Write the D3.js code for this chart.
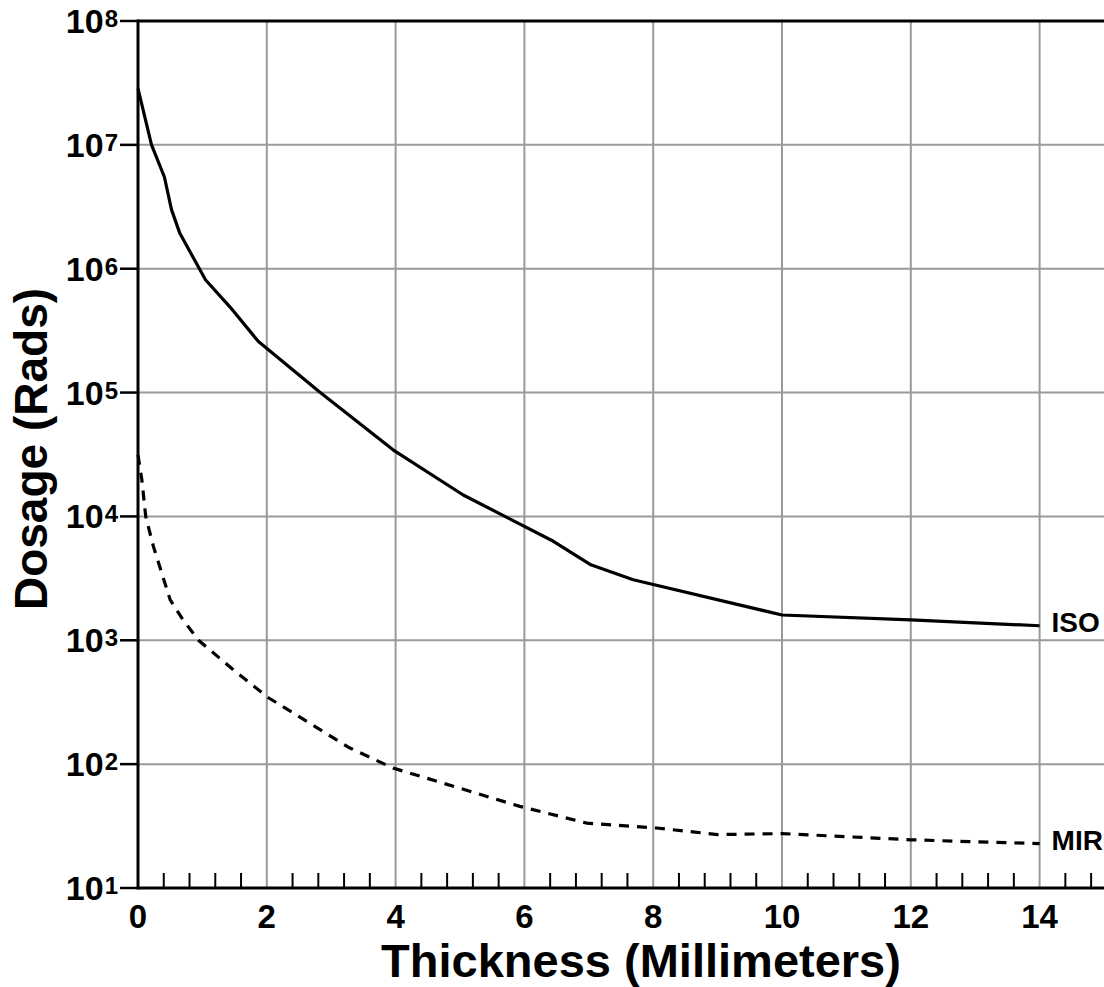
<!DOCTYPE html>
<html>
<head>
<meta charset="utf-8">
<script src="https://cdn.jsdelivr.net/npm/d3@7"></script>
<style>
  html, body { margin: 0; padding: 0; background: #fff; }
  svg { display: block; }
  text { font-family: "Liberation Sans", Arial, Helvetica, sans-serif; font-weight: bold; fill: #000; }
</style>
</head>
<body>
<svg id="chart" width="1104" height="987"></svg>
<script>
// ---- Data ----
const isoThickness = [0, 0.21, 0.41, 0.52, 0.65, 1.05, 1.43, 1.87, 2.83, 3.96, 5.05, 6.45, 7.02, 7.69, 10.0, 12.0, 14.0];
const isoDose      = [2.84e7, 1e7, 5.5e6, 3.0e6, 1.93e6, 8.1e5, 4.9e5, 2.58e5, 1e5, 3.45e4, 1.49e4, 6.3e3, 4.1e3, 3.08e3, 1.6e3, 1.46e3, 1.31e3];

const mirThickness = [0, 0.06, 0.12, 0.24, 0.5, 0.7, 0.94, 1.48, 2.02, 3.29, 3.96, 5.93, 6.97, 8.05, 9.0, 10.0, 12.0, 14.0];
const mirDose      = [3.14e4, 1.97e4, 1e4, 5.7e3, 2.12e3, 1.46e3, 1e3, 578, 345, 135, 93, 45.6, 33.4, 30.5, 27, 27.5, 24.5, 22.8];

const xTickValues = [0, 2, 4, 6, 8, 10, 12, 14];
const yExponents  = [1, 2, 3, 4, 5, 6, 7, 8];
const seriesLabels = ["ISO", "MIR"];
const xTitle = "Thickness (Millimeters)";
const yTitle = "Dosage (Rads)";

// ---- Layout ----
const svg = d3.select("#chart");
const pLeft = 138, pRight = 1104, pTop = 21, pBottom = 888;

const x = d3.scaleLinear().domain([0, 15]).range([pLeft, pRight]);
const y = d3.scaleLog().domain([10, 1e8]).range([pBottom, pTop]);

// gridlines
const grid = svg.append("g");
grid.selectAll("line.vg").data(xTickValues.filter(d => d > 0)).join("line")
  .attr("x1", d => x(d)).attr("x2", d => x(d))
  .attr("y1", pTop).attr("y2", pBottom)
  .attr("stroke", "#9a9a9a").attr("stroke-width", 2);
grid.selectAll("line.hg").data(yExponents.filter(e => e > 1 && e < 8)).join("line")
  .attr("x1", pLeft).attr("x2", pRight)
  .attr("y1", e => y(Math.pow(10, e))).attr("y2", e => y(Math.pow(10, e)))
  .attr("stroke", "#9a9a9a").attr("stroke-width", 2);

// minor ticks on x axis (every 0.4 between grid lines)
const minor = d3.range(0, 15.01, 0.4).map(v => +v.toFixed(2)).filter(v => Math.abs(v / 2 - Math.round(v / 2)) > 1e-6);
svg.append("g").selectAll("line").data(minor).join("line")
  .attr("x1", d => x(d)).attr("x2", d => x(d))
  .attr("y1", pBottom).attr("y2", pBottom - 15)
  .attr("stroke", "#000").attr("stroke-width", 2);

// axes frame
svg.append("line").attr("x1", pLeft).attr("x2", pRight).attr("y1", pTop).attr("y2", pTop)
  .attr("stroke", "#000").attr("stroke-width", 3);
svg.append("line").attr("x1", pLeft).attr("x2", pRight).attr("y1", pBottom).attr("y2", pBottom)
  .attr("stroke", "#000").attr("stroke-width", 3);
svg.append("line").attr("x1", pLeft).attr("x2", pLeft).attr("y1", pTop - 1.5).attr("y2", pBottom + 1.5)
  .attr("stroke", "#000").attr("stroke-width", 3);

// y ticks + labels
const yt = svg.append("g").selectAll("g").data(yExponents).join("g")
  .attr("transform", e => `translate(0,${y(Math.pow(10, e))})`);
yt.append("line").attr("x1", pLeft - 18).attr("x2", pLeft).attr("stroke", "#000").attr("stroke-width", 2.5);
const ytxt = yt.append("text").attr("x", pLeft - 20).attr("y", 12).attr("text-anchor", "end");
ytxt.append("tspan").attr("font-size", 34).text("10");
ytxt.append("tspan").attr("font-size", 24).attr("dx", 1).attr("dy", -6).text(e => e);

// x tick labels
svg.append("g").selectAll("text").data(xTickValues).join("text")
  .attr("x", d => x(d)).attr("y", 928).attr("text-anchor", "middle")
  .attr("font-size", 33).text(d => d);

// titles
svg.append("text").attr("x", 641).attr("y", 977).attr("text-anchor", "middle")
  .attr("font-size", 47).text(xTitle);
svg.append("text").attr("transform", "translate(47,449) rotate(-90)").attr("text-anchor", "middle")
  .attr("font-size", 46).text(yTitle);

// series
const line = d3.line().x(d => x(d[0])).y(d => y(d[1]));
const iso = isoThickness.map((t, i) => [t, isoDose[i]]);
const mir = mirThickness.map((t, i) => [t, mirDose[i]]);
svg.append("path").datum(iso).attr("d", line).attr("fill", "none")
  .attr("stroke", "#000").attr("stroke-width", 3.2).attr("stroke-linejoin", "round");
svg.append("path").datum(mir).attr("d", line).attr("fill", "none")
  .attr("stroke", "#000").attr("stroke-width", 3.2).attr("stroke-dasharray", "10,8");

// end labels
const ends = [iso[iso.length - 1], mir[mir.length - 1]];
svg.append("g").selectAll("text").data(ends).join("text")
  .attr("x", d => x(d[0]) + 12).attr("y", d => y(d[1]) + 6)
  .attr("font-size", 28).text((d, i) => seriesLabels[i]);
</script>
</body>
</html>
